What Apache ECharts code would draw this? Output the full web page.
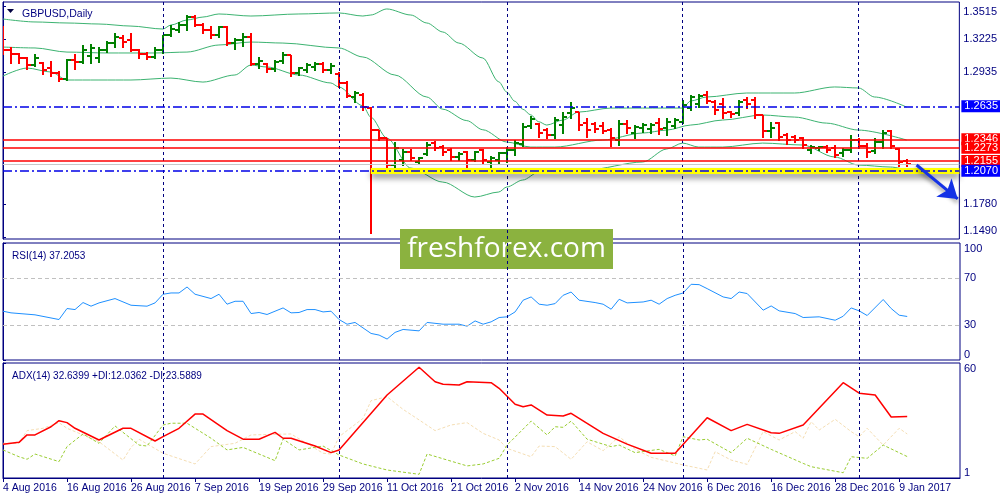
<!DOCTYPE html>
<html><head><meta charset="utf-8">
<script src="https://cdn.jsdelivr.net/npm/echarts@6/dist/echarts.min.js"></script>
<style>html,body{margin:0;padding:0;background:#fff;}#c{width:1000px;height:500px;}</style>
</head><body><div id="c"></div>
<script>
// ---------- DATA ----------
const dateLabels = ['4 Aug 2016','16 Aug 2016','26 Aug 2016','7 Sep 2016','19 Sep 2016','29 Sep 2016','11 Oct 2016','21 Oct 2016','2 Nov 2016','14 Nov 2016','24 Nov 2016','6 Dec 2016','16 Dec 2016','28 Dec 2016','9 Jan 2017'];

const open = [
1.3304,1.3129,1.3094,1.3059,1.2997,1.3015,1.2971,1.2927,1.2875,1.3041,
1.3024,1.3076,1.3059,1.3129,1.3190,1.3234,1.3217,1.3129,1.3094,1.3068,
1.3129,1.3261,1.3304,1.3348,1.3418,1.3348,1.3304,1.3261,1.3331,1.3190,
1.3217,1.3243,1.3006,1.3006,1.2962,1.3033,1.3085,1.2927,1.2954,1.2980,
1.3006,1.2954,1.2919,1.2840,1.2717,1.2734,1.2620,1.2427,1.2357,1.2120,
1.2164,1.2234,1.2147,1.2217,1.2313,1.2278,1.2252,1.2191,1.2234,1.2164,
1.2252,1.2147,1.2164,1.2226,1.2252,1.2305,1.2462,1.2480,1.2427,1.2384,
1.2471,1.2576,1.2585,1.2488,1.2480,1.2462,1.2427,1.2340,1.2480,1.2401,
1.2445,1.2436,1.2488,1.2445,1.2462,1.2497,1.2620,1.2655,1.2734,1.2673,
1.2655,1.2585,1.2576,1.2691,1.2691,1.2559,1.2419,1.2488,1.2384,1.2366,
1.2357,1.2252,1.2270,1.2278,1.2270,1.2226,1.2252,1.2340,1.2287,1.2243,
1.2322,1.2419,1.2261,1.2156];
const high = [
1.3339,1.3155,1.3103,1.3068,1.3094,1.3024,1.3033,1.2945,1.3050,1.3094,
1.3173,1.3182,1.3155,1.3208,1.3278,1.3261,1.3278,1.3138,1.3111,1.3155,
1.3261,1.3348,1.3375,1.3436,1.3436,1.3366,1.3339,1.3339,1.3339,1.3234,
1.3278,1.3278,1.3068,1.3015,1.3041,1.3111,1.3085,1.2980,1.3015,1.3024,
1.3024,1.3015,1.2936,1.2857,1.2769,1.2752,1.2629,1.2427,1.2357,1.2322,
1.2261,1.2261,1.2191,1.2322,1.2331,1.2296,1.2270,1.2234,1.2243,1.2243,
1.2261,1.2199,1.2234,1.2278,1.2340,1.2488,1.2550,1.2488,1.2445,1.2541,
1.2585,1.2673,1.2585,1.2532,1.2497,1.2497,1.2445,1.2515,1.2515,1.2471,
1.2488,1.2488,1.2532,1.2532,1.2532,1.2691,1.2734,1.2743,1.2769,1.2691,
1.2708,1.2594,1.2691,1.2717,1.2717,1.2559,1.2497,1.2497,1.2401,1.2384,
1.2366,1.2296,1.2287,1.2296,1.2296,1.2270,1.2384,1.2357,1.2313,1.2357,
1.2427,1.2427,1.2270,1.2173];
const low = [
1.3094,1.3015,1.3015,1.2962,1.2989,1.2919,1.2901,1.2857,1.2866,1.2962,
1.3015,1.3015,1.3024,1.3111,1.3155,1.3155,1.3120,1.3059,1.3050,1.3059,
1.3103,1.3252,1.3287,1.3304,1.3339,1.3278,1.3234,1.3243,1.3173,1.3138,
1.3164,1.2997,1.2971,1.2936,1.2945,1.3015,1.2901,1.2910,1.2936,1.2954,
1.2936,1.2927,1.2805,1.2717,1.2673,1.2603,1.1524,1.2340,1.2077,1.2103,
1.2120,1.2164,1.2129,1.2208,1.2252,1.2208,1.2164,1.2164,1.2068,1.2156,
1.2138,1.2103,1.2138,1.2147,1.2208,1.2287,1.2445,1.2366,1.2357,1.2357,
1.2401,1.2532,1.2427,1.2366,1.2410,1.2401,1.2287,1.2296,1.2401,1.2357,
1.2410,1.2401,1.2392,1.2384,1.2445,1.2488,1.2603,1.2629,1.2664,1.2568,
1.2532,1.2541,1.2559,1.2620,1.2532,1.2366,1.2366,1.2340,1.2305,1.2322,
1.2270,1.2226,1.2252,1.2234,1.2191,1.2199,1.2234,1.2270,1.2191,1.2226,
1.2270,1.2270,1.2112,1.2112];
const close = [
1.3129,1.3094,1.3059,1.2997,1.3059,1.2954,1.2927,1.2875,1.3041,1.3024,
1.3129,1.3147,1.3129,1.3190,1.3243,1.3199,1.3129,1.3094,1.3068,1.3129,
1.3261,1.3313,1.3348,1.3418,1.3348,1.3304,1.3261,1.3331,1.3190,1.3217,
1.3243,1.3006,1.3033,1.2962,1.3024,1.3085,1.2927,1.2971,1.2997,1.3006,
1.2954,1.2989,1.2840,1.2726,1.2752,1.2629,1.2427,1.2357,1.2120,1.2270,
1.2234,1.2182,1.2182,1.2296,1.2270,1.2234,1.2191,1.2217,1.2164,1.2234,
1.2164,1.2182,1.2226,1.2252,1.2313,1.2454,1.2524,1.2401,1.2384,1.2515,
1.2541,1.2620,1.2471,1.2427,1.2436,1.2419,1.2357,1.2480,1.2445,1.2454,
1.2471,1.2471,1.2436,1.2497,1.2515,1.2647,1.2717,1.2726,1.2682,1.2603,
1.2576,1.2568,1.2673,1.2655,1.2559,1.2419,1.2445,1.2366,1.2340,1.2340,
1.2296,1.2278,1.2278,1.2252,1.2208,1.2252,1.2340,1.2287,1.2234,1.2322,
1.2401,1.2287,1.2147,1.2129];

const bbUpper = [[0,1.3401],[4,1.3375],[8,1.3366],[12,1.3357],[16,1.3339],[20,1.3313],[21,1.3348],[23,1.3392],[25,1.3418],[27,1.3445],[31,1.3427],[37,1.3445],[42,1.3454],[45,1.3427],[46,1.3436],[48,1.3489],[51,1.3436],[53,1.3366],[55,1.3287],[57,1.3190],[60,1.3059],[62,1.2850],[63,1.2760],[64,1.2680],[65,1.2610],[66,1.2560],[67,1.2500],[68,1.2471],[70,1.2515],[72,1.2585],[76,1.2620],[80,1.2620],[85,1.2620],[86,1.2682],[88,1.2717],[93,1.2752],[99,1.2752],[104,1.2805],[107,1.2796],[109,1.2717],[113,1.2629]];
const bbMiddle = [[0,1.3155],[4,1.3147],[8,1.3111],[13,1.3103],[19,1.3103],[23,1.3111],[27,1.3173],[31,1.3199],[35,1.3190],[42,1.3147],[45,1.3068],[49,1.2910],[53,1.2717],[55,1.2610],[58,1.2510],[60,1.2430],[63,1.2322],[66,1.2278],[69,1.2278],[75,1.2340],[80,1.2401],[83,1.2427],[86,1.2471],[90,1.2515],[95,1.2559],[99,1.2541],[103,1.2488],[107,1.2427],[113,1.2340]];
const bbLower = [[0,1.2901],[3,1.2971],[6,1.2936],[8,1.2866],[16,1.2866],[21,1.2883],[25,1.2848],[29,1.2910],[31,1.2997],[33,1.2980],[37,1.2910],[41,1.2840],[42,1.2805],[45,1.2640],[46,1.2540],[48,1.2357],[51,1.2094],[55,1.1971],[59,1.1840],[62,1.1884],[63,1.1928],[65,1.1989],[67,1.2059],[70,1.2077],[73,1.2077],[80,1.2147],[83,1.2261],[85,1.2313],[87,1.2278],[90,1.2278],[95,1.2313],[100,1.2296],[104,1.2191],[107,1.2120],[111,1.2103],[113,1.2077]];

const rsi = [[0,41.7],[1,40.3],[4,38.6],[7,34.6],[8,44],[9,43.1],[10,49.1],[11,46],[12,48.8],[14,52.5],[16,46.8],[18,46],[19,48.8],[20,56.2],[21,57.3],[22,57.3],[23,62.4],[24,56.2],[26,52.5],[27,56.2],[28,47.7],[29,50.2],[30,50.2],[31,39.7],[32,40.6],[33,38.9],[35,44.5],[36,40.3],[37,40.6],[38,43.1],[39,43.1],[40,41.1],[41,41.7],[42,34.6],[43,30.6],[44,32.1],[46,22.7],[47,21.3],[48,17.9],[49,23.6],[50,26.1],[52,24.9],[53,32.1],[55,30.6],[57,30.6],[58,28.9],[59,33.4],[60,30.6],[61,32.6],[62,36.3],[63,36.9],[64,41.1],[65,51.1],[66,53.9],[67,47.7],[68,46.8],[69,48.2],[70,55.3],[71,58.1],[72,51.1],[74,49.1],[75,47.7],[76,43.4],[77,51.9],[78,48.8],[80,49.6],[81,51.1],[82,47.7],[83,52.5],[84,55.3],[85,57.3],[86,64.7],[87,64.4],[88,61],[90,53.9],[91,52.5],[92,58.1],[93,56.8],[95,42.6],[96,46.2],[97,42],[99,39.7],[100,36.3],[102,36.9],[104,34],[105,37.4],[106,44.5],[107,42],[108,38],[110,51.7],[111,44],[112,38.3],[113,37.2]];

const adx = [[0,18.3],[2,19.3],[3,23.1],[4,23.1],[6,27.3],[7,30.4],[8,29.4],[9,26.5],[12,20.5],[15,26.5],[16,26.5],[19,20],[20,22.2],[22,26.5],[24,33.8],[25,33.8],[28,25.3],[30,20.9],[32,20.9],[34,24.4],[35,21.4],[36,21.4],[39,17.4],[41,14],[42,15.4],[48,43.6],[52,57.8],[54,50.4],[55,49.1],[57,48.7],[58,50.4],[61,49.9],[62,47],[64,38.8],[65,37.6],[66,38.5],[68,33.3],[70,32.8],[71,34.2],[74,26.5],[75,23.9],[78,18.4],[81,13.7],[84,13.7],[88,31.9],[91,25.3],[93,28.5],[96,24.2],[97,23.9],[100,28.2],[105,49.9],[107,44.5],[109,43.6],[111,32.3],[113,32.6]];
const plusDI = [[0,15.4],[2,11.9],[3,10.6],[4,13.3],[7,9.4],[8,17.1],[10,23.6],[12,18.8],[14,27.7],[17,17.9],[18,17.4],[20,28.2],[21,29.1],[23,29.1],[26,21.4],[28,15.4],[30,16.7],[34,9.9],[35,21],[37,15.4],[40,17.4],[42,12.8],[45,8.2],[48,5.1],[52,2.9],[53,13.3],[58,7.2],[60,8.2],[62,11.1],[63,17.9],[66,30.2],[68,23.1],[69,27.3],[70,27],[71,30.2],[73,20.9],[76,17.1],[77,17.9],[79,14],[82,15.7],[84,12.3],[85,22.2],[87,20.5],[88,20.9],[91,14],[93,21.4],[96,15.7],[100,8.5],[101,6.8],[105,3.7],[106,11.9],[108,11.1],[110,17.9],[113,12.0]];
const minusDI = [[0,18.8],[2,18.8],[3,25.3],[5,26.5],[7,29.4],[8,26.5],[10,23.1],[12,19.6],[15,10.2],[16,16.7],[17,20.9],[20,13.7],[24,8.2],[26,17.1],[29,18.8],[31,23.1],[36,23.6],[40,13.7],[41,13.3],[42,22.2],[45,31.6],[46,40.7],[48,42.7],[50,36.2],[52,30.8],[54,25.3],[56,28.2],[58,29.4],[60,23.9],[62,20.5],[63,16.2],[66,11.9],[67,17.4],[69,17.1],[71,10.6],[73,19.6],[75,15],[77,22.2],[79,15.7],[81,11.6],[85,7.7],[87,6],[88,5.1],[89,14.5],[91,10.2],[93,8],[95,24.8],[97,20.5],[99,24.8],[100,21.4],[101,29.9],[102,25.6],[104,31.1],[106,24.8],[107,22.2],[108,26.5],[110,17.9],[112,26.5],[113,23.6]];

const priceTicks = [1.1490,1.1780,1.2935,1.3225,1.3515];
const rsiTicks = [0,30,70,100];
const rsiLevels = [30,70];
const adxTicks = [1,60];
const monthStarts = [20,42,63,85,107];
const redLevels = [1.2346,1.2273,1.2155];
const blueLevels = [1.2635,1.2070];
const bidPrice = 1.2129;
const zoneLevel = 1.2070, zoneStart = 46;
const arrowFrom = [114.25,1.2121], arrowTo = [119.4,1.1823];
const xMax = 119.6;

// ---------- CHART ----------
const NAVY = '#000080';
const FONT = 'Liberation Sans';
const chart = echarts.init(document.getElementById('c'), null, {renderer:'canvas'});

const bars = open.map((o,i)=>[i,o,high[i],low[i],close[i]]);

function renderBar(params, api){
  const i = api.value(0), o = api.value(1), h = api.value(2), l = api.value(3), c = api.value(4);
  const t = api.coord([i,h]), b = api.coord([i,l]), po = api.coord([i,o]), pc = api.coord([i,c]);
  const x = Math.round(t[0]);
  const col = c >= o ? '#008000' : '#FF0000';
  const st = {stroke:col, lineWidth:2};
  const yo = Math.round(po[1]), yc = Math.round(pc[1]);
  return {type:'group', children:[
    {type:'line', shape:{x1:x, y1:Math.round(t[1]), x2:x, y2:Math.round(b[1])+1}, style:st},
    {type:'line', shape:{x1:x-4, y1:yo, x2:x, y2:yo}, style:st},
    {type:'line', shape:{x1:x, y1:yc, x2:x+4, y2:yc}, style:st}
  ]};
}

function xAxisDef(idx, showLabels){
  return {
    type:'value', gridIndex:idx, min:0, max:xMax, interval:8,
    axisLine:{show:showLabels, lineStyle:{color:NAVY}},
    axisTick:{show:showLabels, length:4, lineStyle:{color:NAVY}},
    splitLine:{show:false},
    axisLabel:{show:showLabels, showMaxLabel:false, align:'left', margin:5,
      color:NAVY, fontFamily:FONT, fontSize:10.5,
      formatter:v => (v % 8 === 0 && v/8 < dateLabels.length) ? dateLabels[v/8] : ''}
  };
}
function yAxisDef(idx, min, max, ticks, fmt){
  return {
    type:'value', gridIndex:idx, position:'right', min:min, max:max, scale:true,
    axisLine:{show:true, lineStyle:{color:NAVY}},
    axisTick:{show:true, length:3, customValues:ticks, lineStyle:{color:NAVY}},
    splitLine:{show:false},
    axisLabel:{customValues:ticks, formatter:fmt, margin:4, color:NAVY, fontFamily:FONT, fontSize:11,
      verticalAlignMinLabel:'bottom', verticalAlignMaxLabel:'top'}
  };
}
function monthLines(idx){
  return {type:'line', xAxisIndex:idx, yAxisIndex:idx, data:[], z:1, silent:true,
    markLine:{silent:true, symbol:['none','none'], animation:false, precision:4, label:{show:false},
      lineStyle:{color:NAVY, type:[3,3], width:1},
      data: monthStarts.map(m=>({xAxis:m}))}};
}
const levelLabel = (bg)=>({show:true, position:'end', distance:2, backgroundColor:bg, color:'#fff',
  fontFamily:FONT, fontSize:11, padding:[1,3,0,3], formatter:p=>p.name});

const option = {
  animation:false,
  backgroundColor:'#fff',
  grid:[
    {left:3, right:40, top:2, height:237, show:true, borderColor:NAVY, borderWidth:1, backgroundColor:'transparent'},
    {left:3, right:40, top:243, height:117, show:true, borderColor:NAVY, borderWidth:1},
    {left:3, right:40, top:363, height:115, show:true, borderColor:NAVY, borderWidth:1}
  ],
  xAxis:[xAxisDef(0,false), xAxisDef(1,false), xAxisDef(2,true)],
  yAxis:[
    yAxisDef(0, 1.1472, 1.3550, priceTicks, v=>v.toFixed(4)),
    yAxisDef(1, 0, 100, rsiTicks, v=>String(v)),
    yAxisDef(2, 1, 60, adxTicks, v=>String(v))
  ],
  title:[
    {text:'GBPUSD,Daily', left:17, top:4, textStyle:{color:NAVY, fontFamily:FONT, fontSize:10.5, fontWeight:'normal'}},
    {text:'RSI(14) 37.2053', left:7, top:246, textStyle:{color:NAVY, fontFamily:FONT, fontSize:10, fontWeight:'normal'}},
    {text:'ADX(14) 32.6399 +DI:12.0362 -DI:23.5889', left:7, top:366, textStyle:{color:NAVY, fontFamily:FONT, fontSize:10, fontWeight:'normal'}}
  ],
  graphic:[
    {type:'polygon', shape:{points:[[7,9],[14,9],[10.5,13]]}, style:{fill:'#000040'}, z:100},
    {type:'group', left:400, top:229, z:100, children:[
      {type:'rect', shape:{x:0, y:0, width:213, height:40}, style:{fill:'#8BB23F'}},
      {type:'text', x:106.5, y:20, style:{text:'freshforex.com', fill:'#fff', font:'28px "Open Sans"', align:'center', verticalAlign:'middle'}}
    ]}
  ],
  series:[
    monthLines(0), monthLines(1), monthLines(2),
    {type:'line', name:'bbU', xAxisIndex:0, yAxisIndex:0, data:bbUpper, showSymbol:false, smooth:0.3, smoothMonotone:'x', lineStyle:{color:'#3CB371', width:1}, z:2},
    {type:'line', name:'bbM', xAxisIndex:0, yAxisIndex:0, data:bbMiddle, showSymbol:false, smooth:0.3, smoothMonotone:'x', lineStyle:{color:'#3CB371', width:1}, z:2},
    {type:'line', name:'bbL', xAxisIndex:0, yAxisIndex:0, data:bbLower, showSymbol:false, smooth:0.3, smoothMonotone:'x', lineStyle:{color:'#3CB371', width:1}, z:2},
    // support zone (yellow)
    {type:'line', xAxisIndex:0, yAxisIndex:0, data:[], z:3, silent:true,
      markLine:{silent:true, symbol:['none','none'], animation:false, precision:4, label:{show:false},
        data:[[{coord:[zoneStart,zoneLevel]},{coord:[xMax,zoneLevel]}]],
        lineStyle:{color:'#FFFF00', width:6, type:'solid', shadowColor:'rgba(0,0,0,0.45)', shadowBlur:6, shadowOffsetY:4}}},
    // bid line
    {type:'line', xAxisIndex:0, yAxisIndex:0, data:[], z:3, silent:true,
      markLine:{silent:true, symbol:['none','none'], animation:false, precision:4, label:{show:false},
        data:[{yAxis:bidPrice}], lineStyle:{color:'#C8C8C8', width:1, type:'solid'}}},
    {type:'custom', name:'bars', xAxisIndex:0, yAxisIndex:0, data:bars, renderItem:renderBar, clip:true, z:4,
      encode:{x:0, y:[1,2,3,4]}},
    // levels
    {type:'line', xAxisIndex:0, yAxisIndex:0, data:[], z:5, silent:true,
      markLine:{silent:true, symbol:['none','none'], animation:false, precision:4,
        data: redLevels.map(v=>({yAxis:v, name:v.toFixed(4), lineStyle:{color:'#FF0000', width:1.5, type:'solid'}, label:levelLabel('#FF0000')}))
          .concat(blueLevels.map(v=>({yAxis:v, name:v.toFixed(4), lineStyle:{color:'#0000E6', width:1.5, type:[9,3,2,3]}, label:levelLabel('#0000FF')})))}},
    // arrow
    {type:'line', xAxisIndex:0, yAxisIndex:0, data:[], z:6, silent:true,
      markLine:{silent:true, symbol:['none','arrow'], symbolSize:18, animation:false, precision:4, label:{show:false},
        data:[[{coord:arrowFrom},{coord:arrowTo}]],
        lineStyle:{color:'#1432E6', width:3, type:'solid', shadowColor:'rgba(0,0,0,0.45)', shadowBlur:4, shadowOffsetY:3}}},
    // RSI
    {type:'line', name:'RSI', xAxisIndex:1, yAxisIndex:1, data:rsi, showSymbol:false, lineStyle:{color:'#1E90FF', width:1}, z:4,
      markLine:{silent:true, symbol:['none','none'], animation:false, precision:4, label:{show:false},
        lineStyle:{color:'#C0C0C0', type:[4,3], width:1}, data:rsiLevels.map(v=>({yAxis:v}))}},
    // ADX
    {type:'line', name:'-DI', xAxisIndex:2, yAxisIndex:2, data:minusDI, showSymbol:false, lineStyle:{color:'#F5DEB3', width:1, type:[3,2]}, z:3},
    {type:'line', name:'+DI', xAxisIndex:2, yAxisIndex:2, data:plusDI, showSymbol:false, lineStyle:{color:'#9ACD32', width:1, type:[3,2]}, z:3},
    {type:'line', name:'ADX', xAxisIndex:2, yAxisIndex:2, data:adx, showSymbol:false, lineStyle:{color:'#FF0000', width:1.5}, z:4}
  ]
};
chart.setOption(option);
</script></body></html>
